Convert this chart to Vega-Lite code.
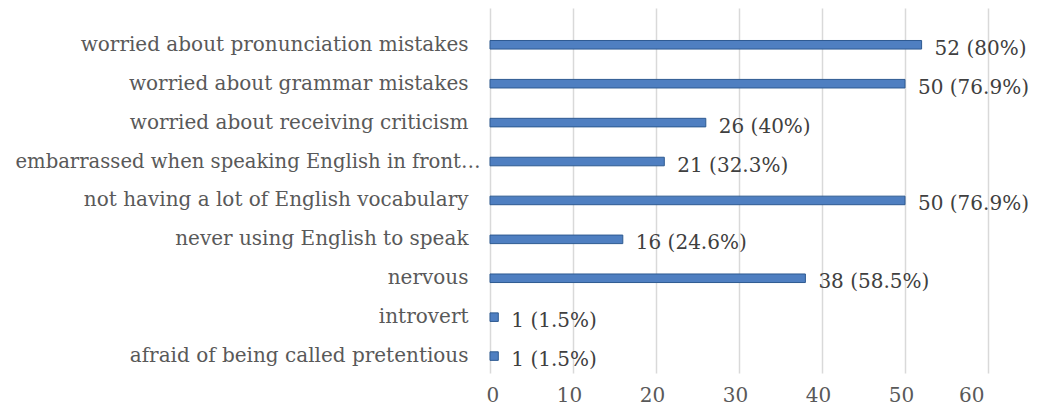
{
  "$schema": "https://vega.github.io/schema/vega-lite/v6.json",
  "width": 498,
  "height": 365,
  "autosize": {"type": "none"},
  "padding": {"left": 490, "top": 8, "right": 50, "bottom": 39},
  "background": "white",
  "config": {"view": {"stroke": null}},
  "data": {
    "values": [
      {"label": "worried about pronunciation mistakes", "count": 52, "text": "52 (80%)"},
      {"label": "worried about grammar mistakes", "count": 50, "text": "50 (76.9%)"},
      {"label": "worried about receiving criticism", "count": 26, "text": "26 (40%)"},
      {"label": "embarrassed when speaking English in front…", "count": 21, "text": "21 (32.3%)"},
      {"label": "not having a lot of English vocabulary", "count": 50, "text": "50 (76.9%)"},
      {"label": "never using English to speak", "count": 16, "text": "16 (24.6%)"},
      {"label": "nervous", "count": 38, "text": "38 (58.5%)"},
      {"label": "introvert", "count": 1, "text": "1 (1.5%)"},
      {"label": "afraid of being called pretentious", "count": 1, "text": "1 (1.5%)"}
    ]
  },
  "encoding": {
    "y": {
      "field": "label",
      "type": "nominal",
      "sort": null,
      "scale": {"paddingInner": 0.78, "paddingOuter": 0.58, "align": 0.72},
      "axis": {
        "title": null,
        "domain": false,
        "ticks": false,
        "grid": false,
        "labelPadding": {"condition": {"test": "indexof(datum.value, 'embarrassed') == 0", "value": 10}, "value": 22},
        "labelFont": "DejaVu Serif",
        "labelFontSize": {"condition": {"test": "indexof(datum.value, 'embarrassed') == 0", "value": 19.6}, "value": 20},
        "labelColor": "#595959",
        "labelLimit": 700
      }
    }
  },
  "layer": [
    {
      "mark": {"type": "bar", "fill": "#4F7FC1", "stroke": "#2E5A91", "strokeWidth": 1},
      "encoding": {
        "x": {
          "field": "count",
          "type": "quantitative",
          "scale": {"domain": [0, 60], "nice": false},
          "axis": {
            "title": null,
            "values": [0, 10, 20, 30, 40, 50, 60],
            "domain": false,
            "ticks": false,
            "grid": true,
            "gridColor": "#D9D9D9",
            "gridWidth": 1.5,
            "labelPadding": 12,
            "labelOffset": -4,
            "labelFont": "DejaVu Serif",
            "labelFontSize": 20,
            "labelColor": "#595959"
          }
        }
      }
    },
    {
      "mark": {"type": "text", "align": "left", "baseline": "middle", "dx": 13, "dy": 4, "font": "DejaVu Serif", "fontSize": 20, "color": "#404040"},
      "encoding": {
        "x": {"field": "count", "type": "quantitative"},
        "text": {"field": "text"}
      }
    }
  ]
}
